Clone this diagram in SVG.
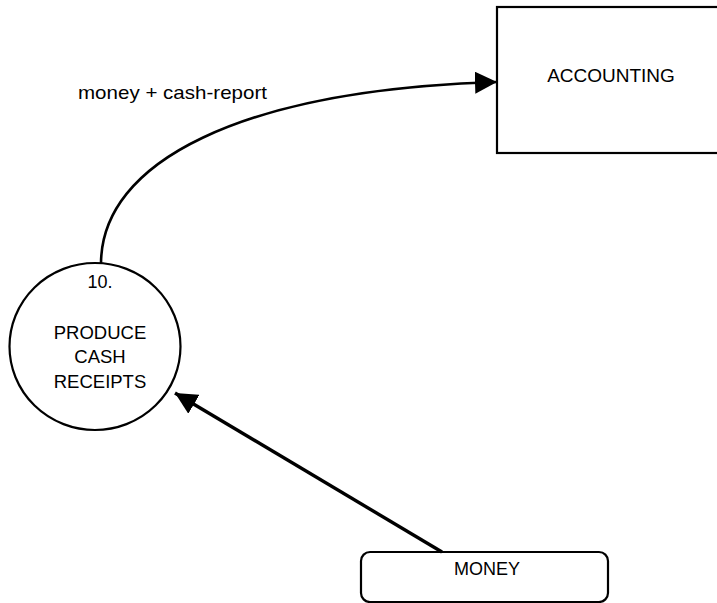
<svg xmlns="http://www.w3.org/2000/svg" width="717" height="603" viewBox="0 0 717 603">
<style>
  text { font-family: "Liberation Sans", Arial, Helvetica, sans-serif; fill: #000; }
  .node { fill: #fff; stroke: #000; stroke-width: 2.2; }
  .flow { fill: none; stroke: #000; }
</style>
<defs>
  <marker id="ah" markerUnits="userSpaceOnUse" markerWidth="22" markerHeight="22" viewBox="0 0 20 20" refX="20" refY="10" orient="auto">
    <path d="M0,0 L20,10 L0,20 Z" fill="#000"/>
  </marker>
</defs>
<rect width="717" height="603" fill="#fff"/>
<g id="accounting">
  <rect class="node" x="497" y="7" width="240" height="146"/>
  <text x="611" y="82" font-size="19" text-anchor="middle">ACCOUNTING</text>
</g>
<g id="process-10">
  <ellipse class="node" cx="95" cy="346.5" rx="85.5" ry="83.5"/>
  <text x="100" y="288" font-size="18" text-anchor="middle">10.</text>
  <text x="100" y="339" font-size="18.5" text-anchor="middle">PRODUCE</text>
  <text x="100" y="363" font-size="18.5" text-anchor="middle">CASH</text>
  <text x="100" y="388" font-size="18.5" text-anchor="middle">RECEIPTS</text>
</g>
<g id="money">
  <rect class="node" x="361" y="552" width="247" height="50" rx="9"/>
  <text x="487" y="575" font-size="18" text-anchor="middle">MONEY</text>
</g>
<g id="connectors">
  <path class="flow" stroke-width="2.6" d="M101,264 C101,162 240,90 497,82" marker-end="url(#ah)"/>
  <text x="78" y="99" font-size="19" textLength="189" lengthAdjust="spacingAndGlyphs">money + cash-report</text>
  <line class="flow" stroke-width="3.4" x1="442" y1="552" x2="175" y2="393" marker-end="url(#ah)"/>
</g>
</svg>
